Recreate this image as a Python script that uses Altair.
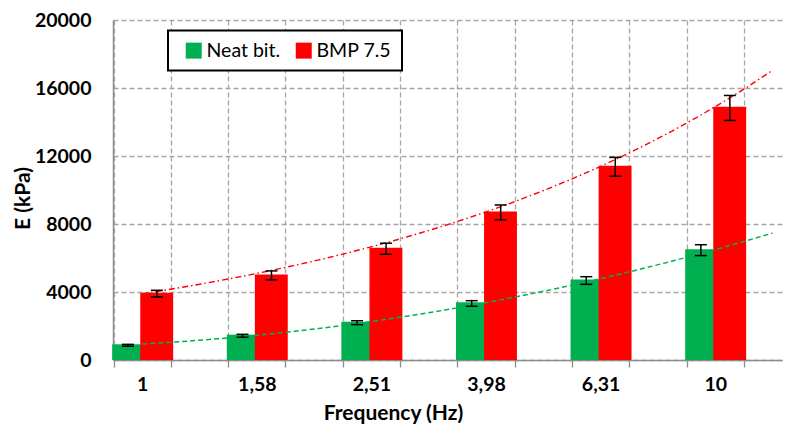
import altair as alt
import pandas as pd

freq_labels = ["1", "1,58", "2,51", "3,98", "6,31", "10"]
series_names = ["Neat bit.", "BMP 7.5"]
neat_vals = [925, 1490, 2255, 3390, 4736, 6520]
neat_lo = [810, 1340, 2080, 3160, 4450, 6140]
neat_hi = [920, 1510, 2310, 3490, 4900, 6780]
bmp_vals = [3960, 5030, 6600, 8736, 11425, 14890]
bmp_lo = [3710, 4710, 6220, 8240, 10810, 14090]
bmp_hi = [4100, 5240, 6870, 9120, 11920, 15560]
colors = ["#00B050", "#FF0000"]
y_ticks = [0, 4000, 8000, 12000, 16000, 20000]

rows = []
for s, vals, lo, hi in [(series_names[0], neat_vals, neat_lo, neat_hi),
                        (series_names[1], bmp_vals, bmp_lo, bmp_hi)]:
    for i, f in enumerate(freq_labels):
        rows.append({"series": s, "freq": f, "idx": i + 1,
                     "value": vals[i], "lo": lo[i], "hi": hi[i]})
df = pd.DataFrame(rows)

n = len(freq_labels)
tick_pos = [0.75 + 0.5 * k for k in range(2 * n)]
x_values = sorted(tick_pos + [float(i + 1) for i in range(n)])
label_expr = "''"
for i in reversed(range(n)):
    label_expr = f"(datum.value == {i + 1} ? '{freq_labels[i]}' : {label_expr})"
hide_int = {"condition": {"test": "datum.value % 1 == 0", "value": 0}, "value": 1}

FONT = "Lato"
xscale = alt.Scale(domain=[0.745, 6.583], nice=False, zero=False)
yscale = alt.Scale(domain=[0, 20000], nice=False)

x_axis = alt.Axis(
    values=x_values, labelExpr=label_expr, labelFont=FONT, labelFontWeight="bold",
    labelFontSize=19.5, labelColor="black", labelBaseline="top", labelPadding=8,
    labelOverlap=False, labelFlush=False,
    tickSize=7, tickColor="#8c8c8c", tickWidth=1.3, tickOpacity=hide_int,
    grid=True, gridDash=[5, 3], gridColor="#a6a6a6", gridWidth=1.3, gridOpacity=hide_int,
    domainColor="#8c8c8c", domainWidth=1.5,
    title="Frequency (Hz)", titleFont=FONT, titleFontWeight="bold", titleFontSize=21,
    titleColor="black", titleX=280, titleY=59, titleBaseline="alphabetic",
    titleAlign="center")

y_axis = alt.Axis(
    values=y_ticks, format="d", ticks=False, labelPadding=22, labelFont=FONT,
    labelFontWeight="bold", labelFontSize=19.5, labelColor="black",
    grid=True, gridDash=[5, 3], gridColor="#a6a6a6", gridWidth=1.3,
    domainColor="#8c8c8c", domainWidth=1.5,
    title="E (kPa)", titleFont=FONT, titleFontWeight="bold", titleFontSize=21,
    titleColor="black", titleX=-90, titleY=178, titleAngle=-90,
    titleAlign="center", titleBaseline="middle")


def X(field):
    return alt.X(field, scale=xscale, axis=x_axis)


def Y(field):
    return alt.Y(field, scale=yscale, axis=y_axis)


base = alt.Chart(df).transform_calculate(
    x0="datum.idx + (datum.series == 'Neat bit.' ? -0.262 : -0.017)",
    x1="datum.idx + (datum.series == 'Neat bit.' ? -0.010 : 0.270)",
    cx="datum.idx + (datum.series == 'Neat bit.' ? -0.125 : 0.128)",
)

bars = base.mark_bar().encode(
    x=X("x0:Q"),
    x2="x1:Q",
    y=Y("value:Q"),
    y2=alt.datum(0),
    color=alt.Color("series:N", scale=alt.Scale(domain=series_names, range=colors),
                    sort=series_names,
                    legend=alt.Legend(orient="none", legendX=55, legendY=10.5,
                                      direction="horizontal",
                                      title="\u00a0", titleOrient="left",
                                      titleFontSize=19.5, titlePadding=6,
                                      strokeColor="black", fillColor="white",
                                      padding=10, symbolType="square",
                                      symbolSize=256, symbolStrokeWidth=0,
                                      labelFont=FONT, labelFontSize=19.5,
                                      labelColor="black", labelOffset=3,
                                      columnPadding=13)),
)

# Trendlines fitted by Vega's own regression transform
trend_g = alt.Chart(df).transform_filter(
    alt.datum.series == series_names[0]
).transform_regression("idx", "value", method="poly", order=2, extent=[1, 6.5]).mark_line(
    color=colors[0], strokeDash=[5, 3], strokeWidth=1.5
).encode(x=X("idx:Q"), y=Y("value:Q"))

trend_r = alt.Chart(df).transform_filter(
    alt.datum.series == series_names[1]
).transform_regression("idx", "value", method="exp", extent=[1, 6.5]).mark_line(
    color=colors[1], strokeDash=[6, 3, 1.5, 3], strokeWidth=1.4
).encode(x=X("idx:Q"), y=Y("value:Q"))

stems = base.mark_rule(color="black", strokeWidth=1.5).encode(
    x=X("cx:Q"), y=Y("lo:Q"), y2="hi:Q",
)
cap_hi = base.mark_rule(color="black", strokeWidth=1.5, xOffset=-6, x2Offset=6).encode(
    x=X("cx:Q"), x2="cx:Q", y=Y("hi:Q"),
)
cap_lo = base.mark_rule(color="black", strokeWidth=1.5, xOffset=-6, x2Offset=6).encode(
    x=X("cx:Q"), x2="cx:Q", y=Y("lo:Q"),
)

chart = alt.layer(bars, trend_g, trend_r, stems, cap_hi, cap_lo).properties(
    width=669, height=340,
    padding={"left": 105, "top": 12, "right": 2, "bottom": 64},
    autosize="none",
).configure_view(stroke=None).configure_legend(strokeWidth=2)

chart.save("out.html", embed_options={"renderer": "svg", "actions": False})
